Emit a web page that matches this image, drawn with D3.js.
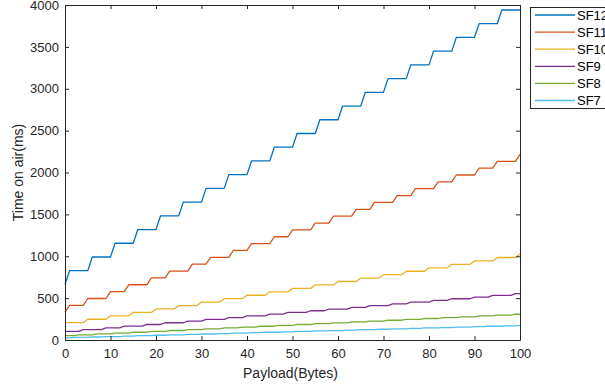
<!DOCTYPE html>
<html>
<head>
<meta charset="utf-8">
<script src="https://cdn.jsdelivr.net/npm/d3@7"></script>
<style>
  html, body { margin: 0; padding: 0; background: #fff; }
  svg { display: block; font-family: "Liberation Sans", Arial, Helvetica, sans-serif; }
</style>
</head>
<body>
<svg id="chart" width="605" height="391"></svg>
<script>
// Time on air (ms) for each spreading factor: each entry is a plateau level,
// paired with the first payload (bytes) at which that level applies.
const seriesNames = ["SF12", "SF11", "SF10", "SF9", "SF8", "SF7"];
const seriesColors = ["#0072BD", "#D95319", "#EDB120", "#7E2F8E", "#77AC30", "#4DBEEE"];

const sf12Starts = [0, 1, 6, 11, 16, 21, 26, 31, 36, 41, 46, 51, 56, 61, 66, 71, 76, 81, 86, 91, 96];
const sf12Levels = [663.6, 827.4, 991.2, 1155.1, 1318.9, 1482.8, 1646.6, 1810.4, 1974.3, 2138.1, 2302.0,
  2465.8, 2629.6, 2793.5, 2957.3, 3121.2, 3285.0, 3448.8, 3612.7, 3776.5, 3940.4];

const sf11Starts = [0, 1, 5, 10, 14, 19, 23, 28, 32, 37, 41, 46, 50, 55, 59, 64, 68, 73, 77, 82, 86, 91, 95, 100];
const sf11Levels = [331.8, 413.7, 495.6, 577.5, 659.5, 741.4, 823.3, 905.2, 987.1, 1069.1, 1151.0, 1232.9,
  1314.8, 1396.7, 1478.7, 1560.6, 1642.5, 1724.4, 1806.3, 1888.3, 1970.2, 2052.1, 2134.0, 2215.9];

const sf10Starts = [0, 5, 10, 15, 20, 25, 30, 35, 40, 45, 50, 55, 60, 65, 70, 75, 80, 85, 90, 95, 100];
const sf10Levels = [206.8, 247.8, 288.8, 329.7, 370.7, 411.6, 452.6, 493.6, 534.5, 575.5, 616.4,
  657.4, 698.4, 739.3, 780.3, 821.2, 862.2, 903.2, 944.1, 985.1, 1026.0];

const sf9Starts = [0, 4, 9, 13, 18, 22, 27, 31, 36, 40, 45, 49, 54, 58, 63, 67, 72, 76, 81, 85, 90, 94, 99];
const sf9Levels = [103.4, 123.9, 144.4, 164.9, 185.3, 205.8, 226.3, 246.8, 267.3, 287.7, 308.2, 328.7,
  349.2, 369.7, 390.1, 410.6, 431.1, 451.6, 472.1, 492.5, 513.0, 533.5, 554.0];

const sf8Starts = [0, 3, 7, 11, 15, 19, 23, 27, 31, 35, 39, 43, 47, 51, 55, 59, 63, 67, 71, 75, 79, 83, 87, 91, 95, 99];
const sf8Levels = [51.7, 62.0, 72.2, 82.4, 92.7, 102.9, 113.2, 123.4, 133.6, 143.9, 154.1, 164.4, 174.6,
  184.8, 195.1, 205.3, 215.6, 225.8, 236.0, 246.3, 256.5, 266.8, 277.0, 287.2, 297.5, 307.7];

const sf7Starts = [0, 2, 6, 9, 13, 16, 20, 23, 27, 30, 34, 37, 41, 44, 48, 51, 55, 58, 62, 65, 69, 72, 76,
  79, 83, 86, 90, 93, 97, 100];
const sf7Levels = [25.9, 31.0, 36.1, 41.2, 46.3, 51.5, 56.6, 61.7, 66.8, 71.9, 77.1, 82.2, 87.3, 92.4, 97.5,
  102.7, 107.8, 112.9, 118.0, 123.1, 128.3, 133.4, 138.5, 143.6, 148.7, 153.9, 159.0, 164.1, 169.2, 174.3];

const xTicks = [0, 10, 20, 30, 40, 50, 60, 70, 80, 90, 100];
const yTicks = [0, 500, 1000, 1500, 2000, 2500, 3000, 3500, 4000];

const seriesStarts = [sf12Starts, sf11Starts, sf10Starts, sf9Starts, sf8Starts, sf7Starts];
const seriesLevels = [sf12Levels, sf11Levels, sf10Levels, sf9Levels, sf8Levels, sf7Levels];

// One point per payload byte, holding the plateau in force at that payload
function expand(starts, levels) {
  const pts = [];
  for (let p = 0; p <= 100; p++) {
    const i = d3.bisectRight(starts, p) - 1;
    pts.push([p, levels[i]]);
  }
  return pts;
}

const svg = d3.select("#chart");
const plot = { left: 65, right: 520, top: 5, bottom: 340 };
const axisColor = "#262626";

const x = d3.scaleLinear().domain([0, 100]).range([plot.left, plot.right]);
const y = d3.scaleLinear().domain([0, 4000]).range([plot.bottom, plot.top]);

// Series lines
const line = d3.line().x(d => x(d[0])).y(d => y(d[1]));
seriesNames.forEach((name, k) => {
  svg.append("path")
    .datum(expand(seriesStarts[k], seriesLevels[k]))
    .attr("fill", "none")
    .attr("stroke", seriesColors[k])
    .attr("stroke-width", 1.3)
    .attr("stroke-linejoin", "round")
    .attr("d", line);
});

// Axes with inward ticks on all four sides (boxed axes)
const tickLen = 4;
function styleAxis(g) {
  g.selectAll(".domain").attr("stroke", axisColor).attr("stroke-width", 1);
  g.selectAll(".tick line").attr("stroke", axisColor);
  g.selectAll("text").attr("fill", axisColor).style("font-size", "13px")
    .style("font-family", "'Liberation Sans', Arial, sans-serif");
}

svg.append("g").attr("transform", `translate(0,${plot.bottom})`)
  .call(d3.axisBottom(x).tickValues(xTicks).tickFormat(d3.format("d"))
    .tickSizeInner(-tickLen).tickSizeOuter(0).tickPadding(9))
  .call(styleAxis);
svg.append("g").attr("transform", `translate(0,${plot.top})`)
  .call(d3.axisTop(x).tickValues(xTicks).tickSizeInner(-tickLen).tickSizeOuter(0).tickFormat(""))
  .call(styleAxis);
svg.append("g").attr("transform", `translate(${plot.left},0)`)
  .call(d3.axisLeft(y).tickValues(yTicks).tickFormat(d3.format("d"))
    .tickSizeInner(-tickLen).tickSizeOuter(0).tickPadding(6))
  .call(styleAxis);
svg.append("g").attr("transform", `translate(${plot.right},0)`)
  .call(d3.axisRight(y).tickValues(yTicks).tickSizeInner(-tickLen).tickSizeOuter(0).tickFormat(""))
  .call(styleAxis);

// Axis titles
svg.append("text")
  .attr("x", (plot.left + plot.right) / 2 - 2)
  .attr("y", 378)
  .attr("text-anchor", "middle")
  .attr("fill", axisColor)
  .style("font-size", "14px")
  .text("Payload(Bytes)");
svg.append("text")
  .attr("transform", `translate(23,${(plot.top + plot.bottom) / 2}) rotate(-90)`)
  .attr("text-anchor", "middle")
  .attr("fill", axisColor)
  .style("font-size", "14px")
  .text("Time on air(ms)");

// Legend
const legend = svg.append("g");
legend.append("rect")
  .attr("x", 530.5).attr("y", 7.5)
  .attr("width", 90).attr("height", 101)
  .attr("fill", "#fff").attr("stroke", axisColor).attr("stroke-width", 1);
seriesNames.forEach((name, k) => {
  const cy = 15 + k * 17.1;
  legend.append("line")
    .attr("x1", 535).attr("x2", 575)
    .attr("y1", cy).attr("y2", cy)
    .attr("stroke", seriesColors[k]).attr("stroke-width", 1.3);
  legend.append("text")
    .attr("x", 577).attr("y", cy)
    .attr("dy", "0.35em")
    .attr("fill", "#000")
    .style("font-size", "13px")
    .text(name);
});
</script>
</body>
</html>
